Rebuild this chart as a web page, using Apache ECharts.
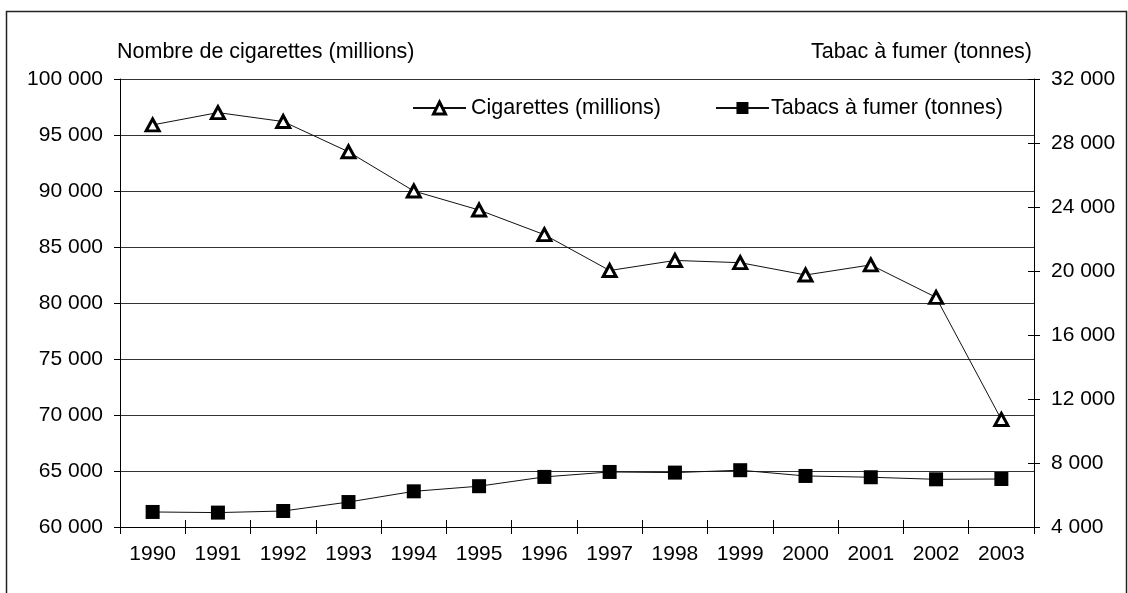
<!DOCTYPE html>
<html>
<head>
<meta charset="utf-8">
<script src="https://cdn.jsdelivr.net/npm/echarts@6/dist/echarts.min.js"></script>
<style>
  html, body { margin: 0; padding: 0; background: #fff; }
  #chart { width: 1128px; height: 593px; }
</style>
</head>
<body>
<div id="chart"></div>
<script>
// Années
const years = ['1990', '1991', '1992', '1993', '1994', '1995', '1996',
               '1997', '1998', '1999', '2000', '2001', '2002', '2003'];
// Cigarettes (millions) — axe de gauche
const cigarettes = [95900, 97000, 96200, 93500, 90000, 88300, 86100,
                    82900, 83800, 83600, 82500, 83400, 80500, 69600];
// Tabacs à fumer (tonnes) — axe de droite
const tabac = [4940, 4900, 5000, 5560, 6230, 6550, 7130,
               7440, 7400, 7550, 7190, 7110, 6980, 7000];

const leftAxis = { name: 'Nombre de cigarettes (millions)', min: 60000, max: 100000, interval: 5000 };
const rightAxis = { name: 'Tabac à fumer (tonnes)', min: 4000, max: 32000, interval: 4000 };
const seriesNames = ['Cigarettes (millions)', 'Tabacs à fumer (tonnes)'];

const FONT = "'Liberation Sans', Arial, sans-serif";
const fmt = v => String(v).replace(/\B(?=(\d{3})+(?!\d))/g, ' ');
const textStyle = { fontFamily: FONT, fontSize: 21, color: '#000' };

const triangleStyle = { color: '#fff', borderColor: '#000', borderWidth: 3 };
const squareStyle = { color: '#000', borderColor: '#000', borderWidth: 0 };

const chart = echarts.init(document.getElementById('chart'), null, { renderer: 'canvas' });

chart.setOption({
  animation: false,
  backgroundColor: '#fff',
  graphic: [{
    type: 'rect',
    shape: { x: 6.5, y: 11.5, width: 1120, height: 620 },
    style: { fill: 'none', stroke: '#222', lineWidth: 1.5 },
    silent: true
  }],
  grid: { left: 120, right: 94, top: 79, bottom: 66, containLabel: false },
  legend: {
    left: 407,
    top: 92,
    itemWidth: 53,
    itemHeight: 15,
    itemGap: 54,
    textStyle: Object.assign({}, textStyle, { fontSize: 21.5 }),
    data: [
      { name: seriesNames[0], itemStyle: triangleStyle },
      { name: seriesNames[1], itemStyle: squareStyle, textStyle: { padding: [0, 0, 0, -3] } }
    ]
  },
  xAxis: [{
    type: 'category',
    data: years,
    boundaryGap: true,
    axisLine: { lineStyle: { color: '#000', width: 1 } },
    axisTick: { show: true, length: 7, lineStyle: { color: '#000' } },
    axisLabel: Object.assign({ margin: 17 }, textStyle),
    splitLine: { show: false }
  }, {
    type: 'category',
    data: years,
    position: 'bottom',
    boundaryGap: true,
    axisLine: { show: false },
    axisTick: { show: true, inside: true, length: 7, lineStyle: { color: '#000' } },
    axisLabel: { show: false },
    splitLine: { show: false }
  }],
  yAxis: [{
    type: 'value',
    position: 'left',
    name: leftAxis.name,
    nameLocation: 'end',
    nameGap: 27,
    nameTextStyle: Object.assign({ align: 'left', verticalAlign: 'middle', padding: [0, 0, 0, -3] }, textStyle, { fontSize: 21.5 }),
    min: leftAxis.min, max: leftAxis.max, interval: leftAxis.interval,
    axisLine: { show: true, lineStyle: { color: '#000', width: 1 } },
    axisTick: { show: true, length: 6, lineStyle: { color: '#000' } },
    axisLabel: Object.assign({ margin: 17, formatter: fmt }, textStyle),
    splitLine: { show: true, lineStyle: { color: '#333', width: 1 } }
  }, {
    type: 'value',
    position: 'right',
    name: rightAxis.name,
    nameLocation: 'end',
    nameGap: 27,
    nameTextStyle: Object.assign({ align: 'right', verticalAlign: 'middle', padding: [0, 2, 0, 0] }, textStyle, { fontSize: 21.5 }),
    min: rightAxis.min, max: rightAxis.max, interval: rightAxis.interval,
    axisLine: { show: true, lineStyle: { color: '#000', width: 1 } },
    axisTick: { show: true, length: 6, lineStyle: { color: '#000' } },
    axisLabel: Object.assign({ margin: 17, formatter: fmt }, textStyle),
    splitLine: { show: false }
  }, {
    type: 'value',
    position: 'right',
    min: rightAxis.min, max: rightAxis.max, interval: rightAxis.interval,
    axisLine: { show: false },
    axisTick: { show: true, inside: true, length: 6, lineStyle: { color: '#000' } },
    axisLabel: { show: false },
    splitLine: { show: false }
  }],
  series: [{
    name: seriesNames[0],
    type: 'line',
    xAxisIndex: 0,
    yAxisIndex: 0,
    data: cigarettes,
    symbol: 'triangle',
    symbolSize: [13, 12],
    showAllSymbol: true,
    lineStyle: { color: '#111', width: 1 },
    itemStyle: triangleStyle,
    z: 3
  }, {
    name: seriesNames[1],
    type: 'line',
    xAxisIndex: 0,
    yAxisIndex: 1,
    data: tabac,
    symbol: 'rect',
    symbolSize: 14,
    showAllSymbol: true,
    lineStyle: { color: '#111', width: 1 },
    itemStyle: squareStyle,
    z: 2
  }]
});
</script>
</body>
</html>
